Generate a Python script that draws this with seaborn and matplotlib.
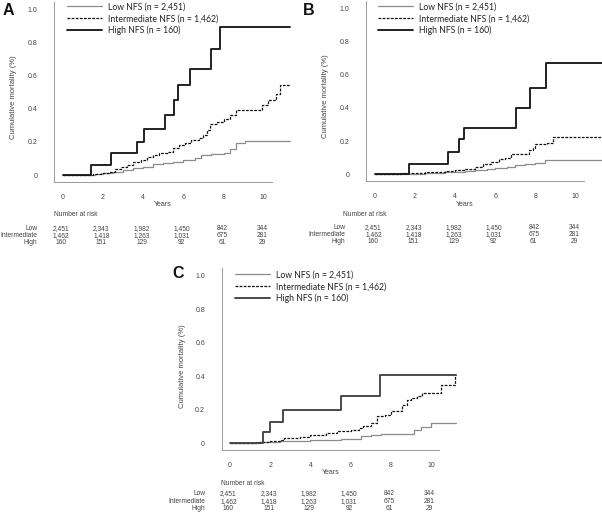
import matplotlib
matplotlib.use("Agg")
import matplotlib.pyplot as plt
import matplotlib.transforms as mtrans
import seaborn as sns

# ---- data ----
group_labels = ["Low NFS (n = 2,451)", "Intermediate NFS (n = 1,462)", "High NFS (n = 160)"]
row_names = ["Low", "Intermediate", "High"]
risk_years = [0, 2, 4, 6, 8, 10]
risk_low = ["2,451", "2,343", "1,982", "1,450", "842", "344"]
risk_inter = ["1,462", "1,418", "1,263", "1,031", "675", "281"]
risk_high = ["160", "151", "129", "92", "61", "29"]
ytick_vals = [0, 0.2, 0.4, 0.6, 0.8, 1.0]
ytick_labels = ["0", "0.2", "0.4", "0.6", "0.8", "1.0"]

# panel A
a_low_t = [0, 1.6, 2.0, 2.5, 3.0, 3.5, 4.0, 4.5, 5.0, 5.5, 6.0, 6.6, 6.9, 7.4, 8.0, 8.3, 8.6, 9.05, 11.3]
a_low_v = [0, 0.005, 0.01, 0.02, 0.03, 0.04, 0.05, 0.065, 0.075, 0.08, 0.09, 0.10, 0.12, 0.125, 0.135, 0.155, 0.19, 0.205, 0.205]
a_int_t = [0, 1.5, 1.9, 2.3, 2.6, 2.9, 3.2, 3.5, 3.9, 4.2, 4.5, 4.8, 5.2, 5.5, 5.8, 6.1, 6.4, 6.8, 7.0, 7.2, 7.35,
           7.7, 8.0, 8.3, 8.6, 9.9, 10.2, 10.6, 10.8, 11.3]
a_int_v = [0, 0.005, 0.01, 0.02, 0.035, 0.05, 0.06, 0.08, 0.09, 0.11, 0.12, 0.13, 0.14, 0.16, 0.18, 0.19, 0.21, 0.22,
           0.24, 0.27, 0.31, 0.32, 0.34, 0.36, 0.39, 0.42, 0.45, 0.49, 0.54, 0.54]
a_high_t = [0, 1.42, 2.41, 3.71, 4.03, 5.1, 5.54, 5.75, 6.33, 7.36, 7.85, 11.3]
a_high_v = [0, 0.063, 0.13, 0.20, 0.275, 0.36, 0.45, 0.54, 0.64, 0.76, 0.89, 0.89]

# panel B
b_low_t = [0, 1.5, 2.5, 3.5, 4.5, 5.0, 5.6, 6.0, 6.6, 7.0, 7.5, 8.0, 8.5, 11.35]
b_low_v = [0, 0.003, 0.008, 0.015, 0.02, 0.025, 0.03, 0.035, 0.045, 0.055, 0.065, 0.07, 0.085, 0.085]
b_int_t = [0, 1.3, 1.7, 2.5, 3.5, 4.0, 4.5, 5.0, 5.4, 5.8, 6.2, 6.5, 6.8, 7.5, 7.7, 7.9, 8.0, 8.6, 8.9, 11.35]
b_int_v = [0, 0.005, 0.01, 0.012, 0.018, 0.025, 0.03, 0.045, 0.06, 0.075, 0.09, 0.10, 0.12, 0.125, 0.145, 0.16,
           0.185, 0.19, 0.225, 0.225]
b_high_t = [0, 1.7, 3.62, 4.2, 4.42, 7.03, 7.72, 8.55, 11.35]
b_high_v = [0, 0.062, 0.135, 0.21, 0.28, 0.40, 0.52, 0.67, 0.67]

# panel C
c_low_t = [0, 1.5, 2.5, 4.0, 5.0, 5.5, 6.5, 7.0, 7.5, 9.15, 9.48, 10.0, 11.25]
c_low_v = [0, 0.003, 0.01, 0.015, 0.02, 0.025, 0.04, 0.045, 0.054, 0.077, 0.095, 0.12, 0.12]
c_int_t = [0, 1.3, 2.0, 2.5, 2.7, 3.5, 4.0, 4.5, 4.8, 5.3, 6.0, 6.4, 6.6, 7.0, 7.3, 7.7, 8.0, 8.55, 8.8, 9.0, 9.3,
           9.57, 10.5, 11.2, 11.25]
c_int_v = [0, 0.003, 0.01, 0.02, 0.03, 0.035, 0.045, 0.05, 0.06, 0.07, 0.075, 0.09, 0.10, 0.12, 0.16, 0.17, 0.19,
           0.226, 0.256, 0.27, 0.28, 0.30, 0.345, 0.41, 0.41]
c_high_t = [0, 1.62, 2.0, 2.63, 5.53, 7.47, 11.25]
c_high_v = [0, 0.065, 0.125, 0.195, 0.28, 0.41, 0.41]

sns.set_theme(style="white")
plt.rcParams["font.family"] = ["Liberation Sans", "DejaVu Sans"]

W, H = 602, 515
fig = plt.figure(figsize=(W / 100, H / 100), dpi=100)
# transform for positions given in pixels from the top-left corner
pix = mtrans.Affine2D().scale(1.0 / W, -1.0 / H).translate(0, 1) + fig.transFigure

grey = "#999999"
txt = "#444444"
tfs = 4.8  # table font size
base = 1.8  # shift from row centre to text baseline, px

panels = [
    dict(letter="A", lx=3, ly=3,
         series=[(a_low_t, a_low_v), (a_int_t, a_int_v), (a_high_t, a_high_v)],
         x0=62.7, sx=20.1, y0=175, sy=166, xl=-0.43, xr=11.35, high_col="#1a1a1a",
         years_x=5.0, ylab_x=17, ylab_y=0.47,
         leg=(67, 2.5), nar_x=54, nar_y=214.5, years_y=204.5, rows_y=[228, 235, 242], row_r=37),
    dict(letter="B", lx=303, ly=3,
         series=[(b_low_t, b_low_v), (b_int_t, b_int_v), (b_high_t, b_high_v)],
         x0=375, sx=20.05, y0=174.3, sy=166, xl=-0.45, xr=11.35, high_col="#1a1a1a",
         years_x=4.45, ylab_x=329, ylab_y=0.47,
         leg=(378, 2.5), nar_x=343, nar_y=214.5, years_y=204.5, rows_y=[227, 234.5, 241], row_r=345),
    dict(letter="C", lx=172, ly=266,
         series=[(c_low_t, c_low_v), (c_int_t, c_int_v), (c_high_t, c_high_v)],
         x0=230, sx=20.1, y0=443, sy=167, xl=-0.41, xr=11.3, high_col="#444444",
         years_x=5.0, ylab_x=186, ylab_y=0.46,
         leg=(235, 270.5), nar_x=221, nar_y=483, years_y=472, rows_y=[493, 501, 508], row_r=205),
]

ylo, yhi = -0.04, 1.045

for p in panels:
    left = (p["x0"] + p["xl"] * p["sx"]) / W
    right = (p["x0"] + p["xr"] * p["sx"]) / W
    top = 1 - (p["y0"] - yhi * p["sy"]) / H
    bottom = 1 - (p["y0"] - ylo * p["sy"]) / H
    ax = fig.add_axes([left, bottom, right - left, top - bottom])
    ax.set_facecolor("none")

    styles = [
        dict(color="#8c8c8c", linewidth=0.9, linestyle="-"),
        dict(color="#111111", linewidth=0.9, linestyle=(0, (2.2, 1.1))),
        dict(color=p["high_col"], linewidth=1.35, linestyle="-"),
    ]
    for (t, v), lab, st in zip(p["series"], group_labels, styles):
        sns.lineplot(x=t, y=v, ax=ax, drawstyle="steps-post", estimator=None, sort=False, label=lab, **st)

    ax.set_xlim(p["xl"], p["xr"])
    ax.set_ylim(ylo, yhi)
    for s in ["top", "right"]:
        ax.spines[s].set_visible(False)
    for s in ["left", "bottom"]:
        ax.spines[s].set_color(grey)
        ax.spines[s].set_linewidth(0.7)
    ax.spines["bottom"].set_bounds(p["xl"], 10.42)
    ax.spines["left"].set_bounds(ylo, yhi)

    ax.set_xticks(risk_years)
    ax.set_yticks(ytick_vals, ytick_labels)
    ax.tick_params(axis="both", length=4, width=0.6, color=grey, labelsize=5, labelcolor=txt)
    ax.tick_params(axis="y", pad=8)
    ax.tick_params(axis="x", pad=5)

    ax.set_xlabel("")
    ax.set_ylabel("Cumulative mortality (%)", fontsize=5.5, color=txt)
    axw = (right - left) * W
    ax.yaxis.set_label_coords((p["ylab_x"] - left * W) / axw, (p["ylab_y"] - ylo) / (yhi - ylo))

    leg = ax.legend(loc="upper left", bbox_to_anchor=(p["leg"][0] / W, 1 - p["leg"][1] / H),
                    bbox_transform=fig.transFigure, frameon=False, borderpad=0, borderaxespad=0,
                    handlelength=4.05, handletextpad=0.7, labelspacing=0.3,
                    prop={"family": "Lato", "size": 6.2})
    for t in leg.get_texts():
        t.set_color("#222222")

    fig.text(p["lx"], p["ly"], p["letter"], transform=pix, fontsize=11.5, fontweight="bold",
             va="top", ha="left", color="#111111")

    # x label and number-at-risk table
    bt = mtrans.blended_transform_factory(ax.transData, pix)
    ax.text(p["years_x"], p["years_y"] + base, "Years", transform=bt, fontsize=5, color=txt,
            ha="center", va="baseline")
    fig.text(p["nar_x"], p["nar_y"] + base, "Number at risk", transform=pix, fontsize=tfs, color=txt,
             ha="left", va="baseline")
    for name, vals, yy in zip(row_names, [risk_low, risk_inter, risk_high], p["rows_y"]):
        fig.text(p["row_r"], yy + base, name, transform=pix, fontsize=tfs, color=txt,
                 ha="right", va="baseline")
        for yr, val in zip(risk_years, vals):
            ax.text(yr - 0.08, yy + base, val, transform=bt, fontsize=tfs, color=txt,
                    ha="center", va="baseline")

fig.savefig("out.png", dpi=100)
